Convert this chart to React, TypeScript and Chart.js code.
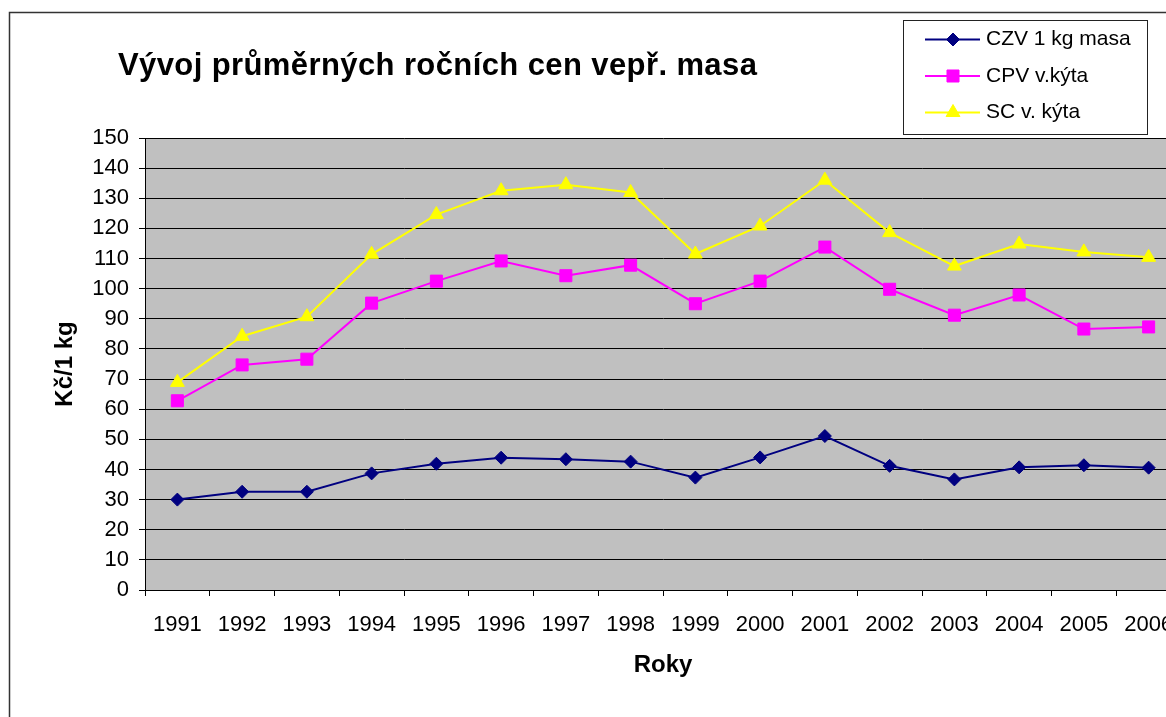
import React, { useEffect, useRef } from "react";
import { Chart, registerables } from "chart.js";
import { drawPoint } from "chart.js/helpers";

Chart.register(...registerables);

const years = ["1991", "1992", "1993", "1994", "1995", "1996", "1997", "1998", "1999", "2000", "2001", "2002", "2003", "2004", "2005", "2006"];
const czv = [30.0, 32.6, 32.6, 38.7, 41.9, 43.9, 43.4, 42.6, 37.3, 44.0, 51.1, 41.2, 36.7, 40.7, 41.4, 40.6];
const cpv = [62.8, 74.7, 76.6, 95.2, 102.5, 109.2, 104.3, 107.8, 95.0, 102.5, 113.8, 99.8, 91.2, 97.9, 86.6, 87.3];
const sc = [68.9, 84.2, 90.7, 111.4, 124.6, 132.5, 134.5, 131.9, 111.5, 120.8, 136.0, 118.6, 107.5, 114.8, 112.2, 110.4];
const seriesNames = ["CZV 1 kg masa", "CPV v.kýta", "SC v. kýta"];
const chartTitle = "Vývoj průměrných ročních cen vepř. masa";
const yTitle = "Kč/1 kg";
const xTitle = "Roky";
const yMin = 0;
const yMax = 150;
const yStep = 10;

const FONT = '"Liberation Sans", Arial, sans-serif';

const decor = {
  id: "decor",
  beforeDraw(chart: any) {
    const { ctx, chartArea: a, width, height } = chart;
    ctx.save();
    ctx.fillStyle = "#ffffff";
    ctx.fillRect(0, 0, width, height);
    ctx.fillStyle = "#C0C0C0";
    ctx.fillRect(a.left, a.top, a.right - a.left, a.bottom - a.top);
    ctx.restore();
  },
  afterDraw(chart: any) {
    const { ctx, width, height } = chart;
    ctx.save();
    // outer chart frame
    ctx.strokeStyle = "#333333";
    ctx.lineWidth = 1.5;
    ctx.beginPath();
    ctx.moveTo(9.5, height + 5);
    ctx.lineTo(9.5, 12.5);
    ctx.lineTo(width + 5, 12.5);
    ctx.stroke();

    // title
    ctx.fillStyle = "#000000";
    ctx.font = `bold 31px ${FONT}`;
    ctx.textAlign = "left";
    ctx.textBaseline = "alphabetic";
    (ctx as any).letterSpacing = "0.4px";
    ctx.fillText(chartTitle, 118, 75);
    (ctx as any).letterSpacing = "0px";

    // legend
    ctx.fillStyle = "#ffffff";
    ctx.fillRect(904, 21, 243, 113);
    ctx.strokeStyle = "#222222";
    ctx.lineWidth = 1;
    ctx.strokeRect(903.5, 20.5, 244, 114);
    const rows = [39.5, 76, 112.5];
    chart.data.datasets.forEach((ds: any, i: number) => {
      const y = rows[i];
      ctx.strokeStyle = ds.borderColor;
      ctx.lineWidth = 2;
      ctx.beginPath();
      ctx.moveTo(925, y);
      ctx.lineTo(980, y);
      ctx.stroke();
      ctx.fillStyle = ds.pointBackgroundColor;
      ctx.strokeStyle = ds.pointBorderColor;
      ctx.lineWidth = 1;
      drawPoint(ctx, { pointStyle: ds.pointStyle, radius: ds.pointRadius, rotation: 0, borderWidth: 1 } as any, 953, y);
      ctx.fillStyle = "#000000";
      ctx.font = `21px ${FONT}`;
      ctx.textAlign = "left";
      ctx.textBaseline = "middle";
      ctx.fillText(ds.label, 986, y);
    });
    ctx.restore();
  },
};

export default function App() {
  const ref = useRef<HTMLCanvasElement>(null);
  useEffect(() => {
    if (!ref.current) return;
    Chart.defaults.font.family = FONT;
    const chart = new Chart(ref.current, {
      type: "line",
      data: {
        labels: years,
        datasets: [
          {
            label: seriesNames[0],
            data: czv,
            borderColor: "#000080",
            backgroundColor: "#000080",
            pointBackgroundColor: "#000080",
            pointBorderColor: "#000080",
            pointStyle: "rectRot",
            pointRadius: 6.5,
            pointBorderWidth: 1,
            borderWidth: 2,
            tension: 0,
          },
          {
            label: seriesNames[1],
            data: cpv,
            borderColor: "#FF00FF",
            backgroundColor: "#FF00FF",
            pointBackgroundColor: "#FF00FF",
            pointBorderColor: "#FF00FF",
            pointStyle: "rect",
            pointRadius: 8.5,
            pointBorderWidth: 1,
            borderWidth: 2,
            tension: 0,
          },
          {
            label: seriesNames[2],
            data: sc,
            borderColor: "#FFFF00",
            backgroundColor: "#FFFF00",
            pointBackgroundColor: "#FFFF00",
            pointBorderColor: "#FFFF00",
            pointStyle: "triangle",
            pointRadius: 8,
            pointBorderWidth: 1,
            borderWidth: 2,
            tension: 0,
          },
        ],
      },
      options: {
        responsive: false,
        animation: false,
        devicePixelRatio: 1,
        layout: { padding: { top: 138, right: 19, bottom: 0, left: 0 } },
        plugins: {
          legend: { display: false },
          title: { display: false },
          tooltip: { enabled: false },
        },
        scales: {
          x: {
            type: "category",
            offset: true,
            afterFit: (scale: any) => {
              scale.height = 127;
            },
            grid: {
              offset: true,
              drawOnChartArea: false,
              drawTicks: true,
              tickLength: 6,
              color: "#000000",
            },
            border: { display: true, color: "#000000", width: 1 },
            ticks: {
              color: "#000000",
              font: { size: 22, family: FONT },
              padding: 16,
              autoSkip: false,
              maxRotation: 0,
            },
            title: {
              display: true,
              text: xTitle,
              color: "#000000",
              font: { size: 24, weight: "bold", family: FONT },
              padding: { top: 0, bottom: 37 },
            },
          },
          y: {
            type: "linear",
            min: yMin,
            max: yMax,
            afterFit: (scale: any) => {
              scale.width = 145;
            },
            grid: {
              color: "#000000",
              lineWidth: 1,
              drawTicks: true,
              tickLength: 6,
            },
            border: { display: true, color: "#000000", width: 1 },
            ticks: {
              stepSize: yStep,
              color: "#000000",
              font: { size: 22, family: FONT },
              padding: 10,
            },
            title: {
              display: true,
              text: yTitle,
              color: "#000000",
              font: { size: 24, weight: "bold", family: FONT },
              padding: { top: 50.6, bottom: 0 },
            },
          },
        },
      } as any,
      plugins: [decor],
    });
    return () => chart.destroy();
  }, []);

  return (
    <div
      style={{
        position: "fixed",
        left: 0,
        top: 0,
        width: 1166,
        height: 717,
        overflow: "hidden",
        background: "#ffffff",
      }}
    >
      <canvas
        ref={ref}
        width={1200}
        height={717}
        style={{ position: "absolute", left: 0, top: 0, width: 1200, height: 717, display: "block" }}
      />
    </div>
  );
}
